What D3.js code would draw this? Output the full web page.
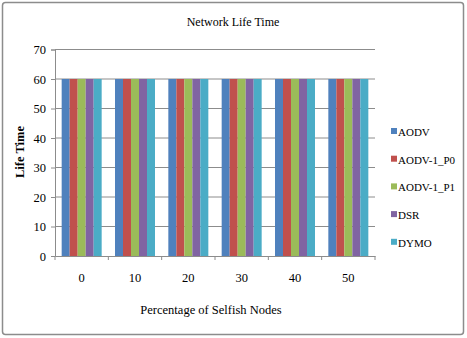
<!DOCTYPE html>
<html>
<head>
<meta charset="utf-8">
<script src="https://cdn.jsdelivr.net/npm/d3@7.9.0/dist/d3.min.js"></script>
<style>
  body { margin: 0; background: #fff; }
  svg text { font-family: "Liberation Serif", "Times New Roman", serif; fill: #000; }
</style>
</head>
<body>
<svg width="467" height="338"></svg>
<script>
const categories = ['0', '10', '20', '30', '40', '50'];
const seriesNames = ['AODV', 'AODV-1_P0', 'AODV-1_P1', 'DSR', 'DYMO'];
const aodv = [60, 60, 60, 60, 60, 60];
const aodvP0 = [60, 60, 60, 60, 60, 60];
const aodvP1 = [60, 60, 60, 60, 60, 60];
const dsr = [60, 60, 60, 60, 60, 60];
const dymo = [60, 60, 60, 60, 60, 60];
const yTicks = [0, 10, 20, 30, 40, 50, 60, 70];

const seriesValues = [aodv, aodvP0, aodvP1, dsr, dymo];
const colors = ['#4F81BD', '#C0504D', '#9BBB59', '#8064A2', '#4BACC6'];
const serif = '"Liberation Serif", "Times New Roman", serif';

const svg = d3.select('svg');

// outer chart border
svg.append('rect')
  .attr('x', 2.5).attr('y', 2.5)
  .attr('width', 461).attr('height', 332)
  .attr('rx', 3)
  .attr('fill', '#fff')
  .attr('stroke', '#8c8c8c')
  .attr('stroke-width', 1.5);

const plotLeft = 55, plotRight = 375, plotTop = 49.5, plotBottom = 256;

let x = d3.scaleBand().domain(categories).range([plotLeft, plotRight]).paddingInner(0.25).paddingOuter(0.125);
let xSub = d3.scaleBand().domain(d3.range(seriesNames.length)).range([0, x.bandwidth()]);
let y = d3.scaleLinear().domain([0, 70]).range([plotBottom, plotTop]);

// gridlines
svg.append('g')
  .selectAll('line')
  .data(yTicks.filter(d => d > 0))
  .join('line')
  .attr('x1', plotLeft).attr('x2', plotRight)
  .attr('y1', d => y(d)).attr('y2', d => y(d))
  .attr('stroke', '#8c8c8c')
  .attr('stroke-width', 1);

// bars
categories.forEach((cat, ci) => {
  seriesValues.forEach((vals, si) => {
    svg.append('rect')
      .attr('x', x(cat) + xSub(si))
      .attr('y', y(vals[ci]))
      .attr('width', xSub.bandwidth())
      .attr('height', y(0) - y(vals[ci]))
      .attr('fill', colors[si]);
  });
});

// y axis
let yAxis = svg.append('g')
  .attr('transform', `translate(${plotLeft},0)`)
  .call(d3.axisLeft(y).tickValues(yTicks).tickSize(4).tickPadding(5));
yAxis.attr('font-family', serif);
yAxis.select('.domain').attr('stroke', '#8c8c8c');
yAxis.selectAll('.tick line').attr('stroke', '#8c8c8c');
yAxis.selectAll('text').attr('font-size', 12.5);

// x axis
let xAxis = svg.append('g')
  .attr('transform', `translate(0,${plotBottom})`)
  .call(d3.axisBottom(x).tickSize(0).tickPadding(17));
xAxis.attr('font-family', serif);
xAxis.select('.domain').attr('stroke', '#8c8c8c');
xAxis.selectAll('text').attr('font-size', 12.5);
// boundary ticks
let step = (plotRight - plotLeft) / categories.length;
svg.append('g')
  .selectAll('line')
  .data(d3.range(categories.length + 1))
  .join('line')
  .attr('x1', d => plotLeft + d * step).attr('x2', d => plotLeft + d * step)
  .attr('y1', plotBottom).attr('y2', plotBottom + 4)
  .attr('stroke', '#8c8c8c');

// title
svg.append('text')
  .attr('x', 233).attr('y', 26)
  .attr('text-anchor', 'middle')
  .attr('font-size', 12)
  .attr('font-family', serif)
  .text('Network Life Time');

// axis titles
svg.append('text')
  .attr('transform', 'translate(24,152) rotate(-90)')
  .attr('text-anchor', 'middle')
  .attr('font-size', 12.5)
  .attr('font-weight', 'bold')
  .attr('font-family', serif)
  .text('Life Time');

svg.append('text')
  .attr('x', 211).attr('y', 314)
  .attr('text-anchor', 'middle')
  .attr('font-size', 12.5)
  .attr('font-family', serif)
  .text('Percentage of Selfish Nodes');

// legend
let legend = svg.append('g').attr('font-family', serif);
seriesNames.forEach((name, i) => {
  let ly = 132 + i * 27.7;
  legend.append('rect')
    .attr('x', 391).attr('y', ly - 4)
    .attr('width', 6).attr('height', 6)
    .attr('fill', colors[i]);
  legend.append('text')
    .attr('x', 398).attr('y', ly + 4)
    .attr('font-size', 11)
    .attr('font-family', serif)
    .text(name);
});
</script>
</body>
</html>
